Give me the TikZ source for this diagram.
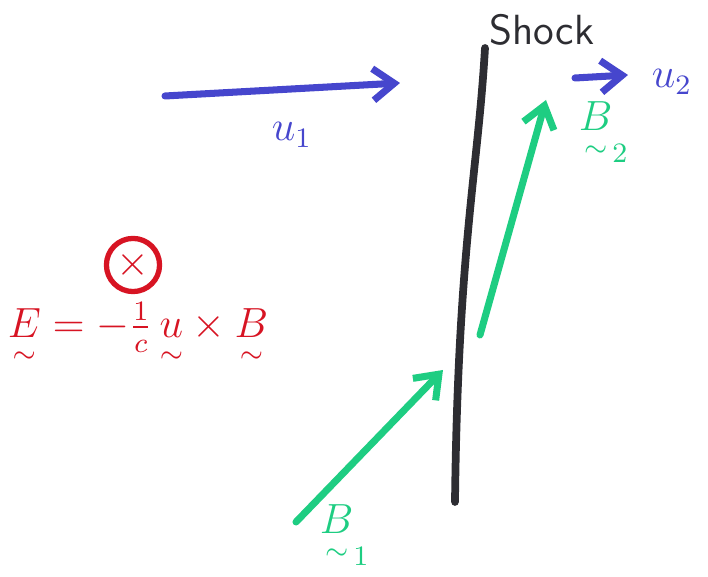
\documentclass[tikz,border=0pt]{standalone}
\usepackage{amsmath,amssymb}
\definecolor{skblue}{RGB}{70,70,205}
\definecolor{skgreen}{RGB}{30,205,130}
\definecolor{skred}{RGB}{215,20,35}
\definecolor{skblack}{RGB}{45,45,50}
\usetikzlibrary{arrows.meta,positioning}
\tikzset{
  vec/.style={line width=2pt, line cap=round, -{Straight Barb[length=6pt,width=9pt,line width=2pt]}},
  lbl/.style={font=\large, inner sep=1pt}
}
\newcommand{\tv}[1]{\underset{\sim}{#1}}

\begin{document}
\begin{tikzpicture}[x=0.01cm, y=-0.01cm]
  \useasboundingbox (0,0) rectangle (708,577);

  % Shock front
  \coordinate (shocktop) at (485,48);
  \coordinate (shockbot) at (455,502);
  \draw[skblack, line width=2.2pt, line cap=round] (shocktop) .. controls (478,170) and (458,250) .. (shockbot);
  \node[font=\large\sffamily, text=skblack] (shock) at (542,30) {Shock};

  % Upstream flow
  \coordinate (u1tail) at (165,96);
  \coordinate (u1head) at (400,83);
  \draw[vec, skblue] (u1tail) -- (u1head);
  \node[lbl, text=skblue] (u1) at (292,135) {$u_1$};

  % Downstream flow
  \coordinate (u2tail) at (575,78);
  \coordinate (u2head) at (628,75);
  \draw[vec, skblue] (u2tail) -- (u2head);
  \node[lbl, text=skblue] (u2) at (672,82) {$u_2$};

  % Field upstream
  \coordinate (b1tail) at (296,522);
  \coordinate (b1head) at (443,370);
  \draw[vec, skgreen] (b1tail) -- (b1head);
  \node[lbl, text=skgreen] (b1) at (345,535) {$\tv{B}_1$};

  % Field downstream
  \coordinate (b2tail) at (480,335);
  \coordinate (b2head) at (546,100);
  \draw[vec, skgreen] (b2tail) -- (b2head);
  \node[lbl, text=skgreen] (b2) at (604,132) {$\tv{B}_2$};

  % Electric field
  \node[draw=skred, circle, line width=1.5pt, inner sep=1pt, text=skred, font=\large] (efield) at (133,265) {$\times$};
  \node[font=\large, text=skred] (eqn) at (138,335) {$\tv{E} = -\tfrac{1}{c}\,\tv{u}\times\tv{B}$};
\end{tikzpicture}
\end{document}
